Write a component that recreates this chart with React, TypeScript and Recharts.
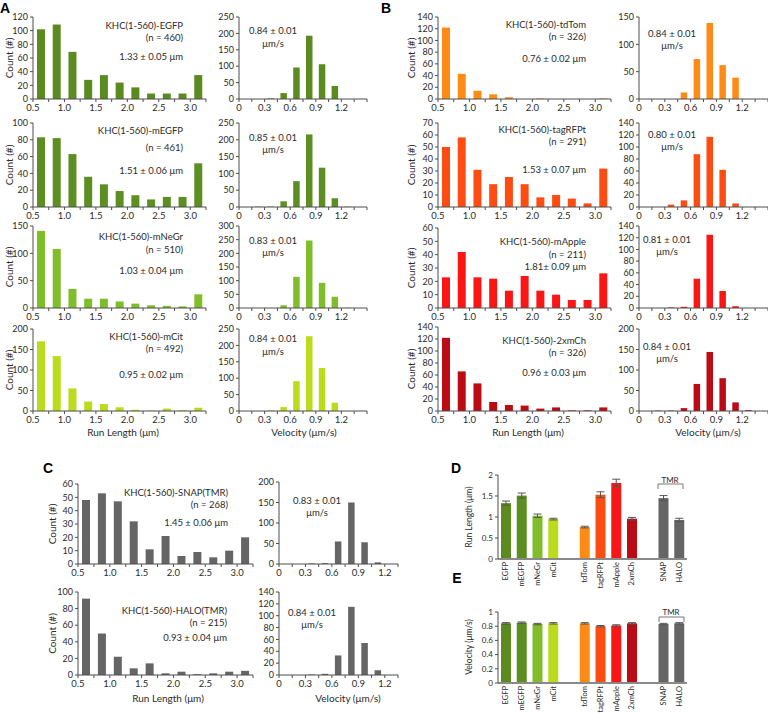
import React from 'react';
import { BarChart, Bar, XAxis, YAxis, ErrorBar, Cell } from 'recharts';

const FONT = 'Lato, "Open Sans", "DejaVu Sans", sans-serif';
const TXT = '#2b2b2b';
const AXIS = '#4d4d4d';

// ---------------- data ----------------
const runLengthBins = [0.625, 0.875, 1.125, 1.375, 1.625, 1.875, 2.125, 2.375, 2.625, 2.875, 3.125];
const velocityBins = [0.075, 0.225, 0.375, 0.525, 0.675, 0.825, 0.975, 1.125, 1.275, 1.425];

const runLengthTicks = [0.5, 0.75, 1, 1.25, 1.5, 1.75, 2, 2.25, 2.5, 2.75, 3, 3.25];
const runLengthTickLabels = ['0.5', '', '1.0', '', '1.5', '', '2.0', '', '2.5', '', '3.0', ''];
const velocityTicks = [0, 0.15, 0.3, 0.45, 0.6, 0.75, 0.9, 1.05, 1.2, 1.35, 1.5];
const velocityTickLabels = ['0', '', '0.3', '', '0.6', '', '0.9', '', '1.2', '', ''];
const velocityTicksC = [0, 0.15, 0.3, 0.45, 0.6, 0.75, 0.9, 1.05, 1.2, 1.35];
const velocityTickLabelsC = ['0', '', '0.3', '', '0.6', '', '0.9', '', '1.2', ''];

const constructs = ['EGFP', 'mEGFP', 'mNeGr', 'mCit', 'tdTom', 'tagRFPt', 'mApple', '2xmCh', 'SNAP', 'HALO'];
const constructNames = [
  'KHC(1-560)-EGFP', 'KHC(1-560)-mEGFP', 'KHC(1-560)-mNeGr', 'KHC(1-560)-mCit',
  'KHC(1-560)-tdTom', 'KHC(1-560)-tagRFPt', 'KHC(1-560)-mApple', 'KHC(1-560)-2xmCh',
  'KHC(1-560)-SNAP(TMR)', 'KHC(1-560)-HALO(TMR)',
];
const sampleSizes = [460, 461, 510, 492, 326, 291, 211, 326, 268, 215];
const runLengthText = [
  '1.33 ± 0.05 μm', '1.51 ± 0.06 μm', '1.03 ± 0.04 μm', '0.95 ± 0.02 μm',
  '0.76 ± 0.02 μm', '1.53 ± 0.07 μm', '1.81± 0.09 μm', '0.96 ± 0.03 μm',
  '1.45 ± 0.06 μm', '0.93 ± 0.04 μm',
];
const velocityText = [
  '0.84 ± 0.01', '0.85 ± 0.01', '0.83 ± 0.01', '0.84 ± 0.01', '0.84 ± 0.01',
  '0.80 ± 0.01', '0.81 ± 0.01', '0.84 ± 0.01', '0.83 ± 0.01', '0.84 ± 0.01',
];
const constructColors = ['#5b8b1f', '#5d8e21', '#80bd2b', '#bbdb1d', '#ff8b17', '#ff4c13', '#fb1616', '#bb0b15', '#656565', '#656565'];

// run length histograms (counts)
const rlEGFP = [102, 109, 69, 28, 35, 24, 17, 8, 8, 8, 35];
const rlMEGFP = [83, 82, 63, 36, 27, 19, 14, 9, 12, 12, 52];
const rlMNeGr = [141, 108, 35, 17, 17, 12, 8, 5, 4, 3, 25];
const rlMCit = [170, 134, 55, 23, 17, 9, 3, 1, 6, 2, 8];
const rlTdTom = [122, 43, 14, 8, 3, 0, 1, 0, 0, 0, 1];
const rlTagRFPt = [50, 58, 31, 19, 25, 19, 8, 10, 7, 3, 32];
const rlMApple = [23, 42, 23, 22, 13, 24, 13, 10, 6, 6, 26];
const rl2xmCh = [122, 66, 46, 15, 10, 9, 4, 6, 1, 1, 6];
const rlSNAP = [48, 53, 47, 32, 11, 21, 6, 9, 5, 10, 20];
const rlHALO = [92, 50, 22, 8, 14, 2, 4, 1, 2, 4, 5];

// velocity histograms (counts)
const velEGFP = [0, 0, 2, 18, 96, 193, 106, 40, 0, 0];
const velMEGFP = [0, 1, 1, 17, 77, 216, 117, 26, 1, 0];
const velMNeGr = [0, 0, 0, 10, 114, 247, 92, 41, 1, 0];
const velMCit = [0, 0, 2, 12, 91, 228, 131, 25, 0, 0];
const velTdTom = [0, 0, 0, 12, 73, 139, 62, 39, 0, 0];
const velTagRFPt = [0, 0, 4, 11, 88, 117, 62, 6, 0, 0];
const velMApple = [0, 0, 1, 2, 50, 125, 29, 3, 0, 0];
const vel2xmCh = [0, 1, 1, 7, 66, 144, 80, 21, 2, 0];
const velSNAP = [0, 0, 1, 2, 55, 150, 53, 4, 0, 0];
const velHALO = [0, 0, 1, 2, 33, 115, 54, 8, 0, 0];

// y-axis ranges [max, step]
const rlYAxis = [[120, 20], [100, 20], [150, 50], [200, 50], [140, 20], [70, 10], [60, 10], [140, 20], [60, 10], [100, 20]];
const velYAxis = [[250, 50], [250, 50], [300, 50], [250, 50], [150, 50], [140, 20], [140, 20], [200, 50], [200, 50], [140, 20]];

// summary panels D / E
const meanRunLength = [1.33, 1.51, 1.03, 0.95, 0.76, 1.53, 1.81, 0.96, 1.45, 0.93];
const semRunLength = [0.05, 0.06, 0.04, 0.02, 0.02, 0.07, 0.09, 0.03, 0.06, 0.04];
const meanVelocity = [0.84, 0.85, 0.83, 0.84, 0.84, 0.80, 0.81, 0.84, 0.83, 0.84];
const semVelocity = [0.01, 0.01, 0.01, 0.01, 0.01, 0.01, 0.01, 0.01, 0.01, 0.01];
const summaryOrder = ['EGFP', 'mEGFP', 'mNeGr', 'mCit', 'gap1', 'tdTom', 'tagRFPt', 'mApple', '2xmCh', 'gap2', 'SNAP', 'HALO'];
const runLengthYTicks = [0, 0.5, 1, 1.5, 2];
const velocityYTicks = [0, 0.2, 0.4, 0.6, 0.8, 1];

const rlSeries = [rlEGFP, rlMEGFP, rlMNeGr, rlMCit, rlTdTom, rlTagRFPt, rlMApple, rl2xmCh, rlSNAP, rlHALO];
const velSeries = [velEGFP, velMEGFP, velMNeGr, velMCit, velTdTom, velTagRFPt, velMApple, vel2xmCh, velSNAP, velHALO];

// ---------------- layout ----------------
type Box = { left: number; top: number; w: number; h: number };
type Row = {
  rl: Box; vel: Box; velC?: boolean;
  nameX: number; nameY: number; nY: number; meanY: number;
  velX: number; velY: number; umY: number; countX: number;
};
const rows: Row[] = [
  // A
  { rl: { left: 33, top: 17, w: 173, h: 82 }, vel: { left: 239, top: 17, w: 128, h: 82 }, nameX: 183, nameY: 25, nY: 37, meanY: 56, velX: 273, velY: 30, umY: 43, countX: 9 },
  { rl: { left: 33, top: 123, w: 173, h: 84 }, vel: { left: 239, top: 123, w: 128, h: 84 }, nameX: 183, nameY: 130, nY: 147, meanY: 170, velX: 273, velY: 137, umY: 149, countX: 9 },
  { rl: { left: 33, top: 226, w: 173, h: 82 }, vel: { left: 239, top: 226, w: 128, h: 82 }, nameX: 183, nameY: 236, nY: 249, meanY: 270, velX: 273, velY: 240, umY: 252, countX: 9 },
  { rl: { left: 33, top: 329, w: 173, h: 82 }, vel: { left: 239, top: 329, w: 128, h: 82 }, nameX: 183, nameY: 336, nY: 348, meanY: 374, velX: 273, velY: 338, umY: 351, countX: 9 },
  // B
  { rl: { left: 438, top: 17, w: 173, h: 82 }, vel: { left: 639, top: 17, w: 129, h: 82 }, nameX: 586, nameY: 24, nY: 36, meanY: 58, velX: 672, velY: 33, umY: 45, countX: 411 },
  { rl: { left: 438, top: 123, w: 173, h: 84 }, vel: { left: 639, top: 123, w: 129, h: 84 }, nameX: 586, nameY: 129, nY: 141, meanY: 169, velX: 672, velY: 134, umY: 146, countX: 411 },
  { rl: { left: 438, top: 228, w: 173, h: 80 }, vel: { left: 639, top: 226, w: 129, h: 82 }, nameX: 586, nameY: 241, nY: 254, meanY: 266, velX: 667, velY: 239, umY: 251, countX: 411 },
  { rl: { left: 438, top: 327, w: 173, h: 84 }, vel: { left: 639, top: 329, w: 129, h: 82 }, nameX: 586, nameY: 340, nY: 352, meanY: 372, velX: 667, velY: 346, umY: 358, countX: 411 },
  // C
  { rl: { left: 78, top: 484, w: 175, h: 80 }, vel: { left: 279, top: 482, w: 119, h: 82 }, velC: true, nameX: 228, nameY: 492, nY: 504, meanY: 522, velX: 317, velY: 500, umY: 512, countX: 52 },
  { rl: { left: 78, top: 592, w: 175, h: 83 }, vel: { left: 279, top: 592, w: 119, h: 83 }, velC: true, nameX: 227, nameY: 610, nY: 622, meanY: 637, velX: 312, velY: 612, umY: 624, countX: 52 },
];

const axisTitles = [
  { x: 123, y: 432, t: 'Run Length (μm)' }, { x: 304, y: 432, t: 'Velocity (μm/s)' },
  { x: 528, y: 432, t: 'Run Length (μm)' }, { x: 708, y: 432, t: 'Velocity (μm/s)' },
  { x: 168, y: 698, t: 'Run Length (μm)' }, { x: 348, y: 698, t: 'Velocity (μm/s)' },
];
const panelLetters = [
  { x: 5, y: 8, t: 'A' }, { x: 386, y: 8, t: 'B' }, { x: 48, y: 468, t: 'C' },
  { x: 456, y: 468, t: 'D' }, { x: 457, y: 578, t: 'E' },
];

// ---------------- components ----------------
type HistProps = {
  box: Box; bins: number[]; values: number[]; color: string;
  domain: [number, number]; ticks: number[]; tickLabels: string[];
  yMax: number; yStep: number; barSize: number;
};

function Hist(p: HistProps) {
  const data = p.bins.map((b, i) => ({ bin: b, count: p.values[i] }));
  const yTicks: number[] = [];
  for (let v = 0; v <= p.yMax + 1e-6; v += p.yStep) yTicks.push(Math.round(v * 1000) / 1000);
  const YW = 32, MT = 6, XH = 20, MR = 4;
  return (
    <div style={{ position: 'absolute', left: p.box.left - YW, top: p.box.top - MT }}>
      <BarChart width={p.box.w + YW + MR} height={p.box.h + MT + XH} data={data}
        margin={{ top: MT, right: MR, left: 0, bottom: 0 }}>
        <XAxis type="number" dataKey="bin" domain={p.domain} ticks={p.ticks} interval={0}
          height={XH} tickSize={3} tickMargin={2} allowDataOverflow
          axisLine={{ stroke: AXIS }} tickLine={{ stroke: AXIS }}
          tick={(t: any) => {
            const i = p.ticks.indexOf(t.payload.value);
            const lab = i >= 0 ? p.tickLabels[i] : '';
            return (
              <text x={t.x} y={t.y} dy="0.72em" textAnchor="middle" fontSize={9.5} fill={TXT} fontFamily={FONT}>{lab}</text>
            );
          }} />
        <YAxis type="number" domain={[0, p.yMax]} ticks={yTicks} interval={0} width={YW}
          tickSize={3} tickMargin={2} allowDataOverflow
          axisLine={{ stroke: AXIS }} tickLine={{ stroke: AXIS }}
          tick={{ fontSize: 9, fill: TXT, fontFamily: FONT }} />
        <Bar dataKey="count" fill={p.color} barSize={p.barSize} isAnimationActive={false} />
      </BarChart>
    </div>
  );
}

type SummaryProps = { box: Box; means: number[]; sems: number[]; yTicks: number[] };

function Summary(p: SummaryProps) {
  const data = summaryOrder.map((k) => {
    const i = constructs.indexOf(k);
    return i >= 0
      ? { key: k, mean: p.means[i], err: p.sems[i], color: constructColors[i] }
      : { key: k, mean: null, err: null, color: '#fff' };
  });
  const YW = 26, MT = 6, XH = 30, MR = 2;
  const yMax = p.yTicks[p.yTicks.length - 1];
  return (
    <div style={{ position: 'absolute', left: p.box.left - YW, top: p.box.top - MT }}>
      <BarChart width={p.box.w + YW + MR} height={p.box.h + MT + XH} data={data}
        margin={{ top: MT, right: MR, left: 0, bottom: 0 }} barCategoryGap={3}>
        <XAxis type="category" dataKey="key" height={XH} interval={0} tickSize={2} tickMargin={1}
          tickLine={false} axisLine={{ stroke: '#8a8a8a', strokeWidth: 2 }}
          tick={(t: any) => {
            const v = String(t.payload.value);
            const lab = v.startsWith('gap') ? '' : v;
            return (
              <text transform={`translate(${t.x},${t.y}) rotate(-90)`} textAnchor="end" dominantBaseline="central"
                fontSize={7.5} fill={TXT} fontFamily={FONT}>{lab}</text>
            );
          }} />
        <YAxis type="number" domain={[0, yMax]} ticks={p.yTicks} interval={0} width={YW}
          tickSize={3} tickMargin={2} axisLine={{ stroke: AXIS }} tickLine={{ stroke: AXIS }}
          tick={{ fontSize: 8, fill: TXT, fontFamily: FONT }} />
        <Bar dataKey="mean" barSize={10} isAnimationActive={false}>
          {data.map((d) => <Cell key={d.key} fill={d.color} />)}
          <ErrorBar dataKey="err" width={4} stroke="#555" strokeWidth={1} direction="y" />
        </Bar>
      </BarChart>
    </div>
  );
}

export default function App() {
  return (
    <div style={{ position: 'absolute', left: 0, top: 0, width: 768, height: 713, background: '#fff', overflow: 'hidden', fontFamily: FONT }}>
      {rows.map((r, i) => (
        <React.Fragment key={i}>
          <Hist box={r.rl} bins={runLengthBins} values={rlSeries[i]} color={constructColors[i]}
            domain={[0.5, 3.25]} ticks={runLengthTicks} tickLabels={runLengthTickLabels}
            yMax={rlYAxis[i][0]} yStep={rlYAxis[i][1]} barSize={8} />
          <Hist box={r.vel} bins={velocityBins} values={velSeries[i]} color={constructColors[i]}
            domain={r.velC ? [0, 1.35] : [0, 1.5]}
            ticks={r.velC ? velocityTicksC : velocityTicks}
            tickLabels={r.velC ? velocityTickLabelsC : velocityTickLabels}
            yMax={velYAxis[i][0]} yStep={velYAxis[i][1]} barSize={6.5} />
        </React.Fragment>
      ))}
      <Summary box={{ left: 498, top: 475, w: 189, h: 84 }} means={meanRunLength} sems={semRunLength} yTicks={runLengthYTicks} />
      <Summary box={{ left: 498, top: 612, w: 189, h: 71 }} means={meanVelocity} sems={semVelocity} yTicks={velocityYTicks} />

      <svg width={768} height={713} style={{ position: 'absolute', left: 0, top: 0, pointerEvents: 'none' }}>
        <g fontFamily={FONT} fill={TXT}>
          {rows.map((r, i) => (
            <g key={i} fontSize={9.5}>
              <text x={r.nameX} y={r.nameY} textAnchor="end" dominantBaseline="central">{constructNames[i]}</text>
              <text x={r.nameX} y={r.nY} textAnchor="end" dominantBaseline="central">{`(n = ${sampleSizes[i]})`}</text>
              <text x={r.nameX} y={r.meanY} textAnchor="end" dominantBaseline="central">{runLengthText[i]}</text>
              <text x={r.velX} y={r.velY} textAnchor="middle" dominantBaseline="central">{velocityText[i]}</text>
              <text x={r.velX} y={r.umY} textAnchor="middle" dominantBaseline="central">μm/s</text>
              <text transform={`translate(${r.countX},${r.rl.top + r.rl.h / 2}) rotate(-90)`} textAnchor="middle" dominantBaseline="central" fontSize={10}>Count (#)</text>
            </g>
          ))}
          {axisTitles.map((a, i) => (
            <text key={i} x={a.x} y={a.y} textAnchor="middle" dominantBaseline="central" fontSize={10}>{a.t}</text>
          ))}
          <text transform="translate(469,517) rotate(-90)" textAnchor="middle" dominantBaseline="central" fontSize={8.5}>Run Length (μm)</text>
          <text transform="translate(469,647) rotate(-90)" textAnchor="middle" dominantBaseline="central" fontSize={8.5}>Velocity (μm/s)</text>
          <text x={670} y={480} textAnchor="middle" dominantBaseline="central" fontSize={8}>TMR</text>
          <path d="M658,489 V484 H683 V489" fill="none" stroke="#777" strokeWidth={1} />
          <text x={671} y={612} textAnchor="middle" dominantBaseline="central" fontSize={8}>TMR</text>
          <path d="M659,622 V617 H684 V622" fill="none" stroke="#777" strokeWidth={1} />
          {panelLetters.map((l, i) => (
            <text key={i} x={l.x} y={l.y} textAnchor="middle" dominantBaseline="central" fontSize={14}
              fontWeight="bold" fontFamily='"Liberation Sans", Arial, sans-serif' fill="#000">{l.t}</text>
          ))}
        </g>
      </svg>
    </div>
  );
}
